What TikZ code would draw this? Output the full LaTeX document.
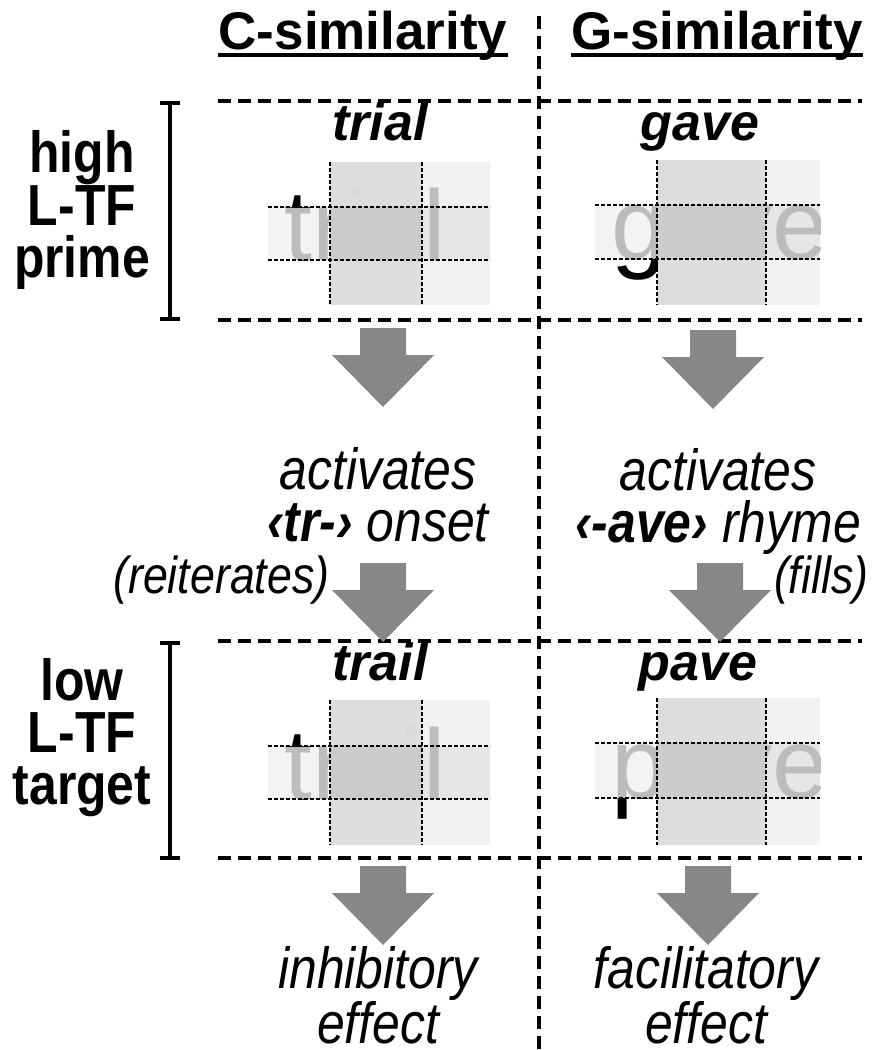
\documentclass[tikz,border=0pt]{standalone}
\usepackage{fontspec}
\setmainfont{Liberation Sans}
\newfontfamily\narrowsf{Liberation Sans}[FakeStretch=0.86]
\usetikzlibrary{calc}

\definecolor{arrowgrey}{HTML}{878787}
\definecolor{cellmid}{HTML}{F3F3F3}
\definecolor{cellcol}{HTML}{DDDDDD}
\definecolor{cellcentre}{HTML}{CACACA}
\definecolor{cellright}{HTML}{F2F2F2}
\definecolor{cellrightmid}{HTML}{E6E6E6}
\definecolor{lettergrey}{HTML}{BCBCBC}

\tikzset{
  sepline/.style={line width=3.5pt, dash pattern=on 13pt off 7pt},
  gridline/.style={line width=1.3pt, dash pattern=on 4pt off 2pt},
  bracket/.style={line width=3.5pt},
  head/.style={font=\bfseries\fontsize{53}{58}\selectfont, inner sep=0pt},
  side/.style={font=\narrowsf\bfseries\fontsize{58}{52}\selectfont, align=center},
  title/.style={font=\bfseries\itshape\fontsize{52}{58}\selectfont, inner sep=0pt, anchor=base},
  note/.style={font=\narrowsf\itshape\fontsize{58}{52}\selectfont, align=center, inner sep=0pt},
  aside/.style={font=\narrowsf\itshape\fontsize{52}{52}\selectfont},
  letters/.style={font=\fontsize{100}{100}\selectfont, inner sep=0pt, anchor=base west},
}

\def\firstletter#1#2\relax{#1}
% block arrow pointing down: (x centre, top y)
\def\fatarrow(#1,#2){\fill[arrowgrey] (#1-23,#2) -- (#1+23,#2) -- (#1+23,#2+27) -- (#1+51,#2+27) -- (#1,#2+79) -- (#1-51,#2+27) -- (#1-23,#2+27) -- cycle;}
% faded word picture: columns, rows, word
\def\wordimg(#1,#2,#3,#4)(#5,#6,#7,#8)#9{%
  \fill[white] (#1,#5) rectangle (#2,#8);
  \fill[cellmid] (#1,#6) rectangle (#2,#7);
  \fill[cellcol] (#2,#5) rectangle (#3,#8);
  \fill[cellright] (#3,#5) rectangle (#4,#8);
  \fill[cellrightmid] (#3,#6) rectangle (#4,#7);
  \begin{scope}
    \clip (#1,#5) rectangle (#4,#8);
    \node[letters, text=lettergrey] (#9) at (#1+16,#7) {#9};
  \end{scope}
  \fill[cellcol, opacity=0.85] (#2,#5) rectangle (#3,#8);
  \fill[cellcentre, opacity=0.9] (#2,#6) rectangle (#3,#7);
  \begin{scope}
    \clip (#1,#5) rectangle (#2,#6) (#1,#7) rectangle (#2,#8);
    \node[letters] (#9-lead) at (#1+16,#7) {\firstletter#9\relax};
  \end{scope}
  \draw[gridline] (#1,#6) -- (#4,#6) (#1,#7) -- (#4,#7) (#2,#5) -- (#2,#8) (#3,#5) -- (#3,#8);
}

\begin{document}
\begin{tikzpicture}[x=1pt,y=-1pt]
  \useasboundingbox (0,0) rectangle (874,1050);

  %%%%% headers %%%%%
  \node[head, anchor=base] (hc) at (363,49) {C-similarity};
  \node[head, anchor=base] (hg) at (717,49) {G-similarity};
  \draw[bracket] ([yshift=-6pt]hc.base west) -- ([yshift=-6pt]hc.base east);
  \draw[bracket] ([yshift=-6pt]hg.base west) -- ([yshift=-6pt]hg.base east);

  \coordinate (dtop) at (539,16);
  \coordinate (dbot) at (539,1050);
  \draw[sepline] (dtop) -- (dbot);
  \foreach \y in {101,320,641,858}
    \draw[sepline] (218,\y) -- (862,\y);

  %%%%% side brackets %%%%%
  \foreach \a/\b in {103/319,643/858}
    \draw[bracket] (160,\a) -- (180,\a) (170,\a) -- (170,\b) (160,\b) -- (180,\b);
  \node[side] (prime) at (82,210) {high\\L-TF\\prime};
  \node[side] (target) at (82,738) {low\\L-TF\\target};

  %%%%% words %%%%%
  \node[title] (t-trial) at (380,140) {trial};
  \node[title] (t-gave) at (700,140) {gave};
  \node[title] (t-trail) at (380,680) {trail};
  \node[title] (t-pave) at (698,680) {pave};

  \wordimg(268,330,422,490)(162,207,260,305){trial}
  \wordimg(595,657,766,820)(160,205,259,305){gave}
  \wordimg(268,330,422,490)(700,746,799,845){trail}
  \wordimg(595,657,766,820)(698,743,798,845){pave}

  %%%%% arrows and notes %%%%%
  \fatarrow(383,328)
  \fatarrow(713,330)
  \node[note] (onset) at (378,495) {activates\\{\bfseries ‹tr-›} onset};
  \node[note] (rhyme) at (718,501) {activates\\{\bfseries ‹-ave›} rhyme};
  \fatarrow(383,563)
  \fatarrow(720,563)
  \node[aside, anchor=east] (reit) at (333,580) {(reiterates)};
  \node[aside, anchor=east] (fills) at (872,580) {(fills)};
  \fatarrow(383,866)
  \fatarrow(708,866)
  \node[note] (inhib) at (378,995) {inhibitory\\effect};
  \node[note] (facil) at (706,995) {facilitatory\\effect};
\end{tikzpicture}
\end{document}
